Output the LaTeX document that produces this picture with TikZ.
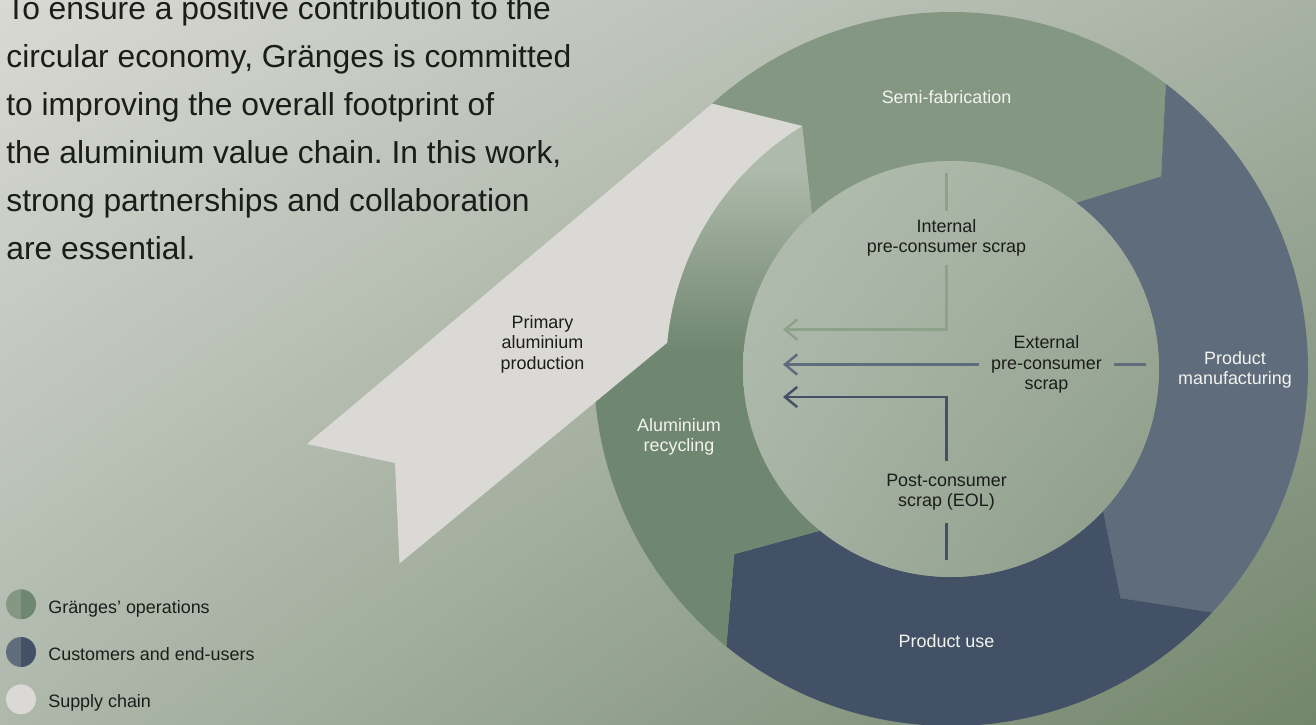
\documentclass[tikz,border=0pt]{standalone}
\usepackage{fontspec}
\setmainfont{Liberation Sans}
\usetikzlibrary{arrows.meta,calc,shadings}
\frenchspacing

\definecolor{semifab}{HTML}{839782}
\definecolor{recgreen}{HTML}{6F8670}
\definecolor{recpale}{HTML}{AEBAAB}
\definecolor{prodman}{HTML}{5F6C7C}
\definecolor{produse}{HTML}{435167}
\definecolor{supply}{HTML}{DBD9D5}
\definecolor{intcol}{HTML}{8EA28B}
\definecolor{ink}{HTML}{1B1D1A}
\definecolor{ringtext}{HTML}{F3F3EF}
\definecolor{bgul}{HTML}{D9D9D3}
\definecolor{bgur}{HTML}{A7B2A4}
\definecolor{bgll}{HTML}{AEB8AB}
\definecolor{bglr}{HTML}{72866C}
\definecolor{inul}{HTML}{B4BFB1}
\definecolor{inur}{HTML}{A2AE9E}
\definecolor{inll}{HTML}{A6B2A3}
\definecolor{inlr}{HTML}{8B9B87}

\pgfdeclareverticalshading{recfade}{100bp}{color(0bp)=(recgreen); color(52bp)=(recgreen); color(69bp)=(recpale); color(100bp)=(recpale)}

% ring radii and chevron offset
\def\rin{208}
\def\rout{357}
\def\rmid{285}
\def\dl{10.5}
\newcommand{\ringpart}[2]{($(c)+(#1:\rout)$) arc[start angle=#1,end angle=#2,radius=\rout] -- ($(c)+(#2+\dl:\rmid)$) -- ($(c)+(#2:\rin)$) arc[start angle=#2,end angle=#1,radius=\rin] -- ($(c)+(#1+\dl:\rmid)$) -- cycle}

\begin{document}
\begin{tikzpicture}[x=0.02cm,y=-0.02cm,
  lab/.style={font=\fontsize{10.2}{11.6}\selectfont,align=center,inner sep=0pt},
  ringlab/.style={lab,text=ringtext},
  darklab/.style={lab,text=ink},
  scrap/.style={line width=1.4pt},
  toend/.style={-{Straight Barb[length=7pt,width=11.5pt]}},
  legdot/.style={circle,minimum size=17pt,inner sep=0pt},
  legtext/.style={font=\fontsize{10.2}{11.6}\selectfont,text=ink,anchor=base west,inner sep=0pt}]
\useasboundingbox (0,0) rectangle (1316,724);
\shade[upper left=bgul,upper right=bgur,lower left=bgll,lower right=bglr] (0,0) rectangle (1316,724);

\coordinate (c) at (951,369);
% ring
\fill[semifab] \ringpart{-132}{-53};
\fill[prodman] \ringpart{-53}{43};
\fill[produse] \ringpart{43}{129};
\shade[shading=recfade] \ringpart{129}{228};
% supply chain ribbon
\fill[supply] (307,444) -- ($(c)+(228:\rout)$) -- ($(c)+(238.5:\rmid)$) arc[start angle=238.5,end angle=185.3,radius=\rmid] -- (399.5,563.5) -- (395,463) -- cycle;
% inner circle
\shade[upper left=inul,upper right=inur,lower left=inll,lower right=inlr] (c) circle[radius=\rin];

\node[font=\fontsize{18.1}{27.3}\selectfont,text=ink,align=left,inner sep=0pt,anchor=north west] (intro) at (6,-3.5) {To ensure a positive contribution to the\\circular economy, Gränges is committed\\to improving the overall footprint of\\the aluminium value chain. In this work,\\strong partnerships and collaboration\\are essential.};

\node[ringlab] (semi) at (946.5,97.5) {Semi-fabrication};
\node[ringlab] (manuf) at (1235,370) {Product\\manufacturing};
\node[ringlab] (use) at (946.5,641) {Product use};
\node[ringlab] (recyc) at (679,437) {Aluminium\\recycling};
\node[darklab] (primary) at (542.5,344) {Primary\\aluminium\\production};

\node[darklab,inner ysep=4.7pt] (internal) at (946.5,238) {Internal\\pre-consumer scrap};
\node[darklab,inner xsep=7pt] (external) at (1046.5,364.5) {External\\pre-consumer\\scrap};
\node[darklab,inner ysep=7.2pt] (post) at (946.5,492) {Post-consumer\\scrap (EOL)};

\coordinate (inttop) at (946.5,173);
\coordinate (intend) at (783,329.5);
\coordinate (extstart) at (1146,364.5);
\coordinate (extend) at (783,364.5);
\coordinate (postbot) at (946.5,560);
\coordinate (postend) at (783,397);
\draw[scrap,intcol] (inttop) -- (internal);
\draw[scrap,intcol,toend] (internal) |- (intend);
\draw[scrap,prodman] (extstart) -- (external);
\draw[scrap,prodman,toend] (external) -- (extend);
\draw[scrap,produse] (postbot) -- (post);
\draw[scrap,produse,toend] (post) |- (postend);

% legend
\node[legdot,fill=semifab,path picture={\fill[recgreen] (path picture bounding box.north) rectangle (path picture bounding box.south east);}] (dot1) at (21,604.3) {};
\node[legtext] (leg1) at (48,613) {Gränges’ operations};
\node[legdot,fill=prodman,path picture={\fill[produse] (path picture bounding box.north) rectangle (path picture bounding box.south east);}] (dot2) at (21,652) {};
\node[legtext] (leg2) at (48,660) {Customers and end-users};
\node[legdot,fill=supply] (dot3) at (21,699.3) {};
\node[legtext] (leg3) at (48,707) {Supply chain};
\end{tikzpicture}
\end{document}
